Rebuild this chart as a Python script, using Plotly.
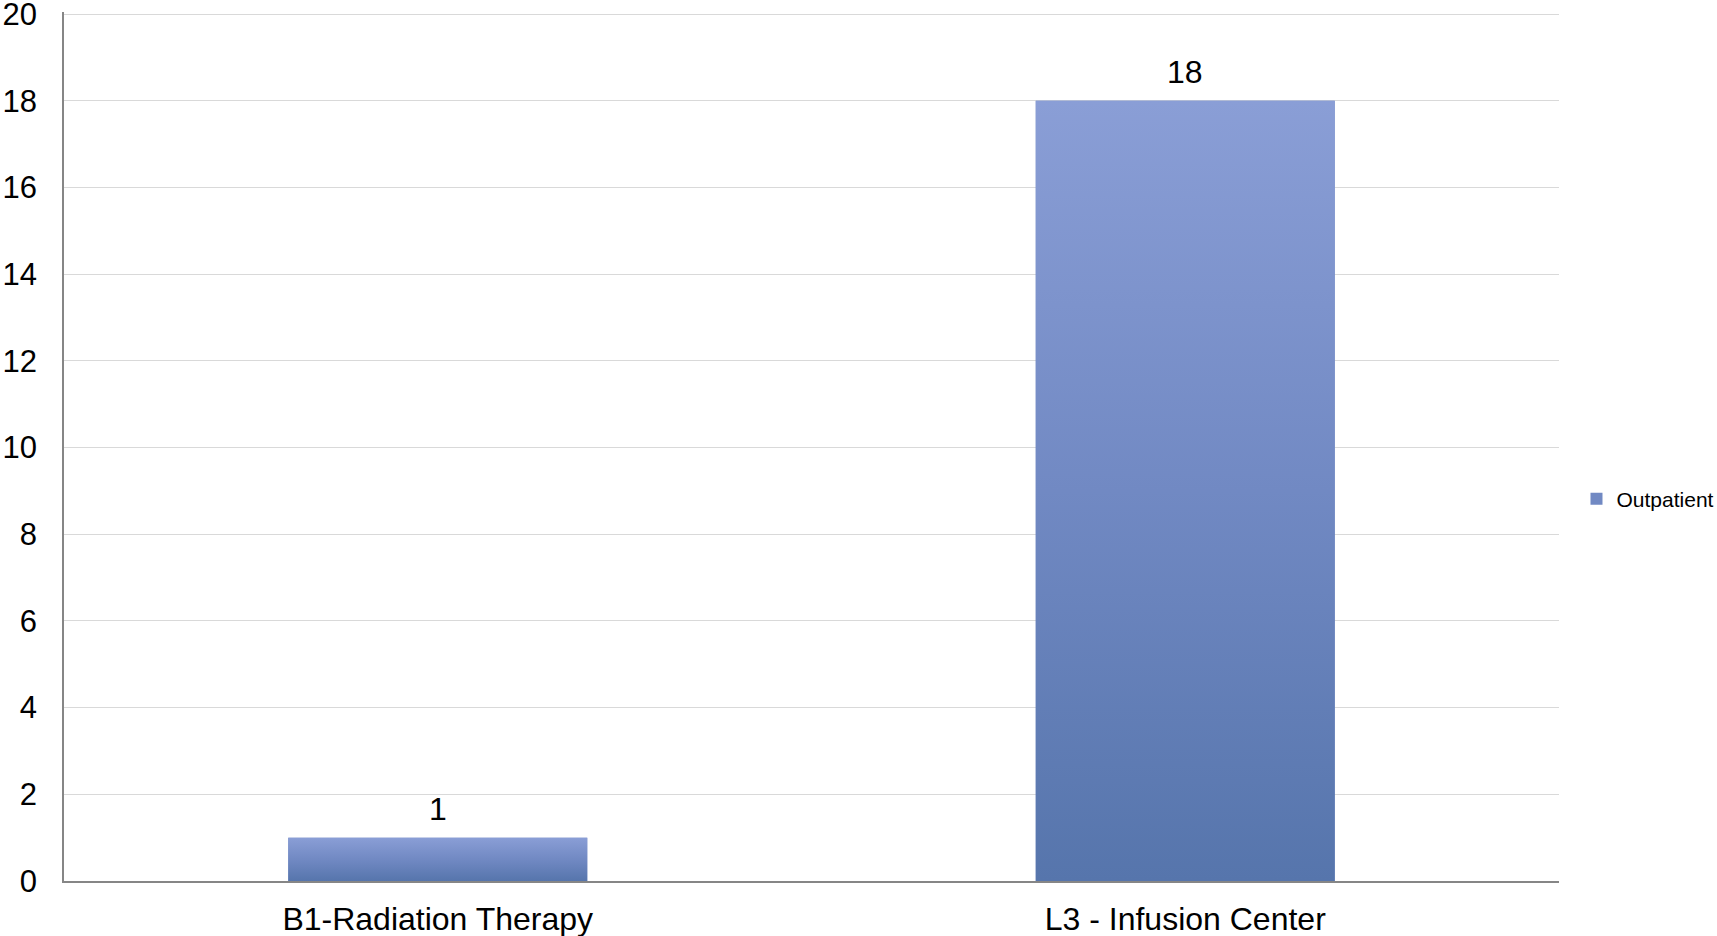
import plotly.graph_objects as go

categories = ["B1-Radiation Therapy", "L3 - Infusion Center"]
values = [1, 18]
series_name = "Outpatient"
y_tick_values = [0, 2, 4, 6, 8, 10, 12, 14, 16, 18, 20]

bar_width = 0.4
x_pos = list(range(len(categories)))
grad = [[0.0, "#5675AC"], [0.5, "#7189C3"], [1.0, "#8A9ED6"]]
font_family = "Liberation Sans, Arial, sans-serif"

fig = go.Figure()
fig.add_trace(go.Bar(
    x=x_pos, y=values, width=bar_width, name=series_name,
    marker=dict(color="#7189C3", line=dict(width=0)),
    showlegend=True, hoverinfo="skip",
))
for xi, v in zip(x_pos, values):
    x0, x1 = xi - bar_width / 2, xi + bar_width / 2
    fig.add_trace(go.Scatter(
        x=[x0, x1, x1, x0, x0], y=[0, 0, v, v, 0],
        mode="lines", fill="toself", line=dict(width=0, color="rgba(0,0,0,0)"),
        fillgradient=dict(type="vertical", colorscale=grad),
        showlegend=False, hoverinfo="skip",
    ))

for xi, v in zip(x_pos, values):
    fig.add_annotation(x=xi, y=v, text=str(v), showarrow=False, yshift=29,
                       yanchor="middle", font=dict(size=32, color="#000000", family=font_family))

fig.update_layout(
    template="none",
    width=1717, height=936,
    margin=dict(l=64, r=158, t=12, b=55, pad=0, autoexpand=False),
    paper_bgcolor="white", plot_bgcolor="white",
    font=dict(family=font_family, color="#000000"),
    legend=dict(x=1.0117, y=0.4396, xanchor="left", yanchor="middle",
                font=dict(size=21, color="#000000"), bgcolor="rgba(0,0,0,0)",
                borderwidth=0),
    bargap=0.6,
)
fig.update_xaxes(
    range=[-0.5, 1.5], tickmode="array", tickvals=x_pos, ticktext=categories,
    showgrid=False, zeroline=False, showline=True, linecolor="#868686", linewidth=2,
    ticks="", tickfont=dict(size=32, color="#000000"), ticklabelstandoff=9,
    ticklabeloverflow="allow", automargin=False,
)
fig.update_yaxes(
    range=[0, 20.05], tickmode="array", tickvals=y_tick_values,
    showgrid=True, gridcolor="#D9D9D9", gridwidth=1, zeroline=False,
    showline=True, linecolor="#868686", linewidth=1.5,
    ticks="", tickfont=dict(size=31, color="#000000"), ticklabelstandoff=19,
    ticklabeloverflow="allow", automargin=False,
)

fig.write_html(
    "out.html",
    config={"displayModeBar": False},
    post_script="document.body.style.margin='0px';document.body.style.overflow='hidden';",
)
